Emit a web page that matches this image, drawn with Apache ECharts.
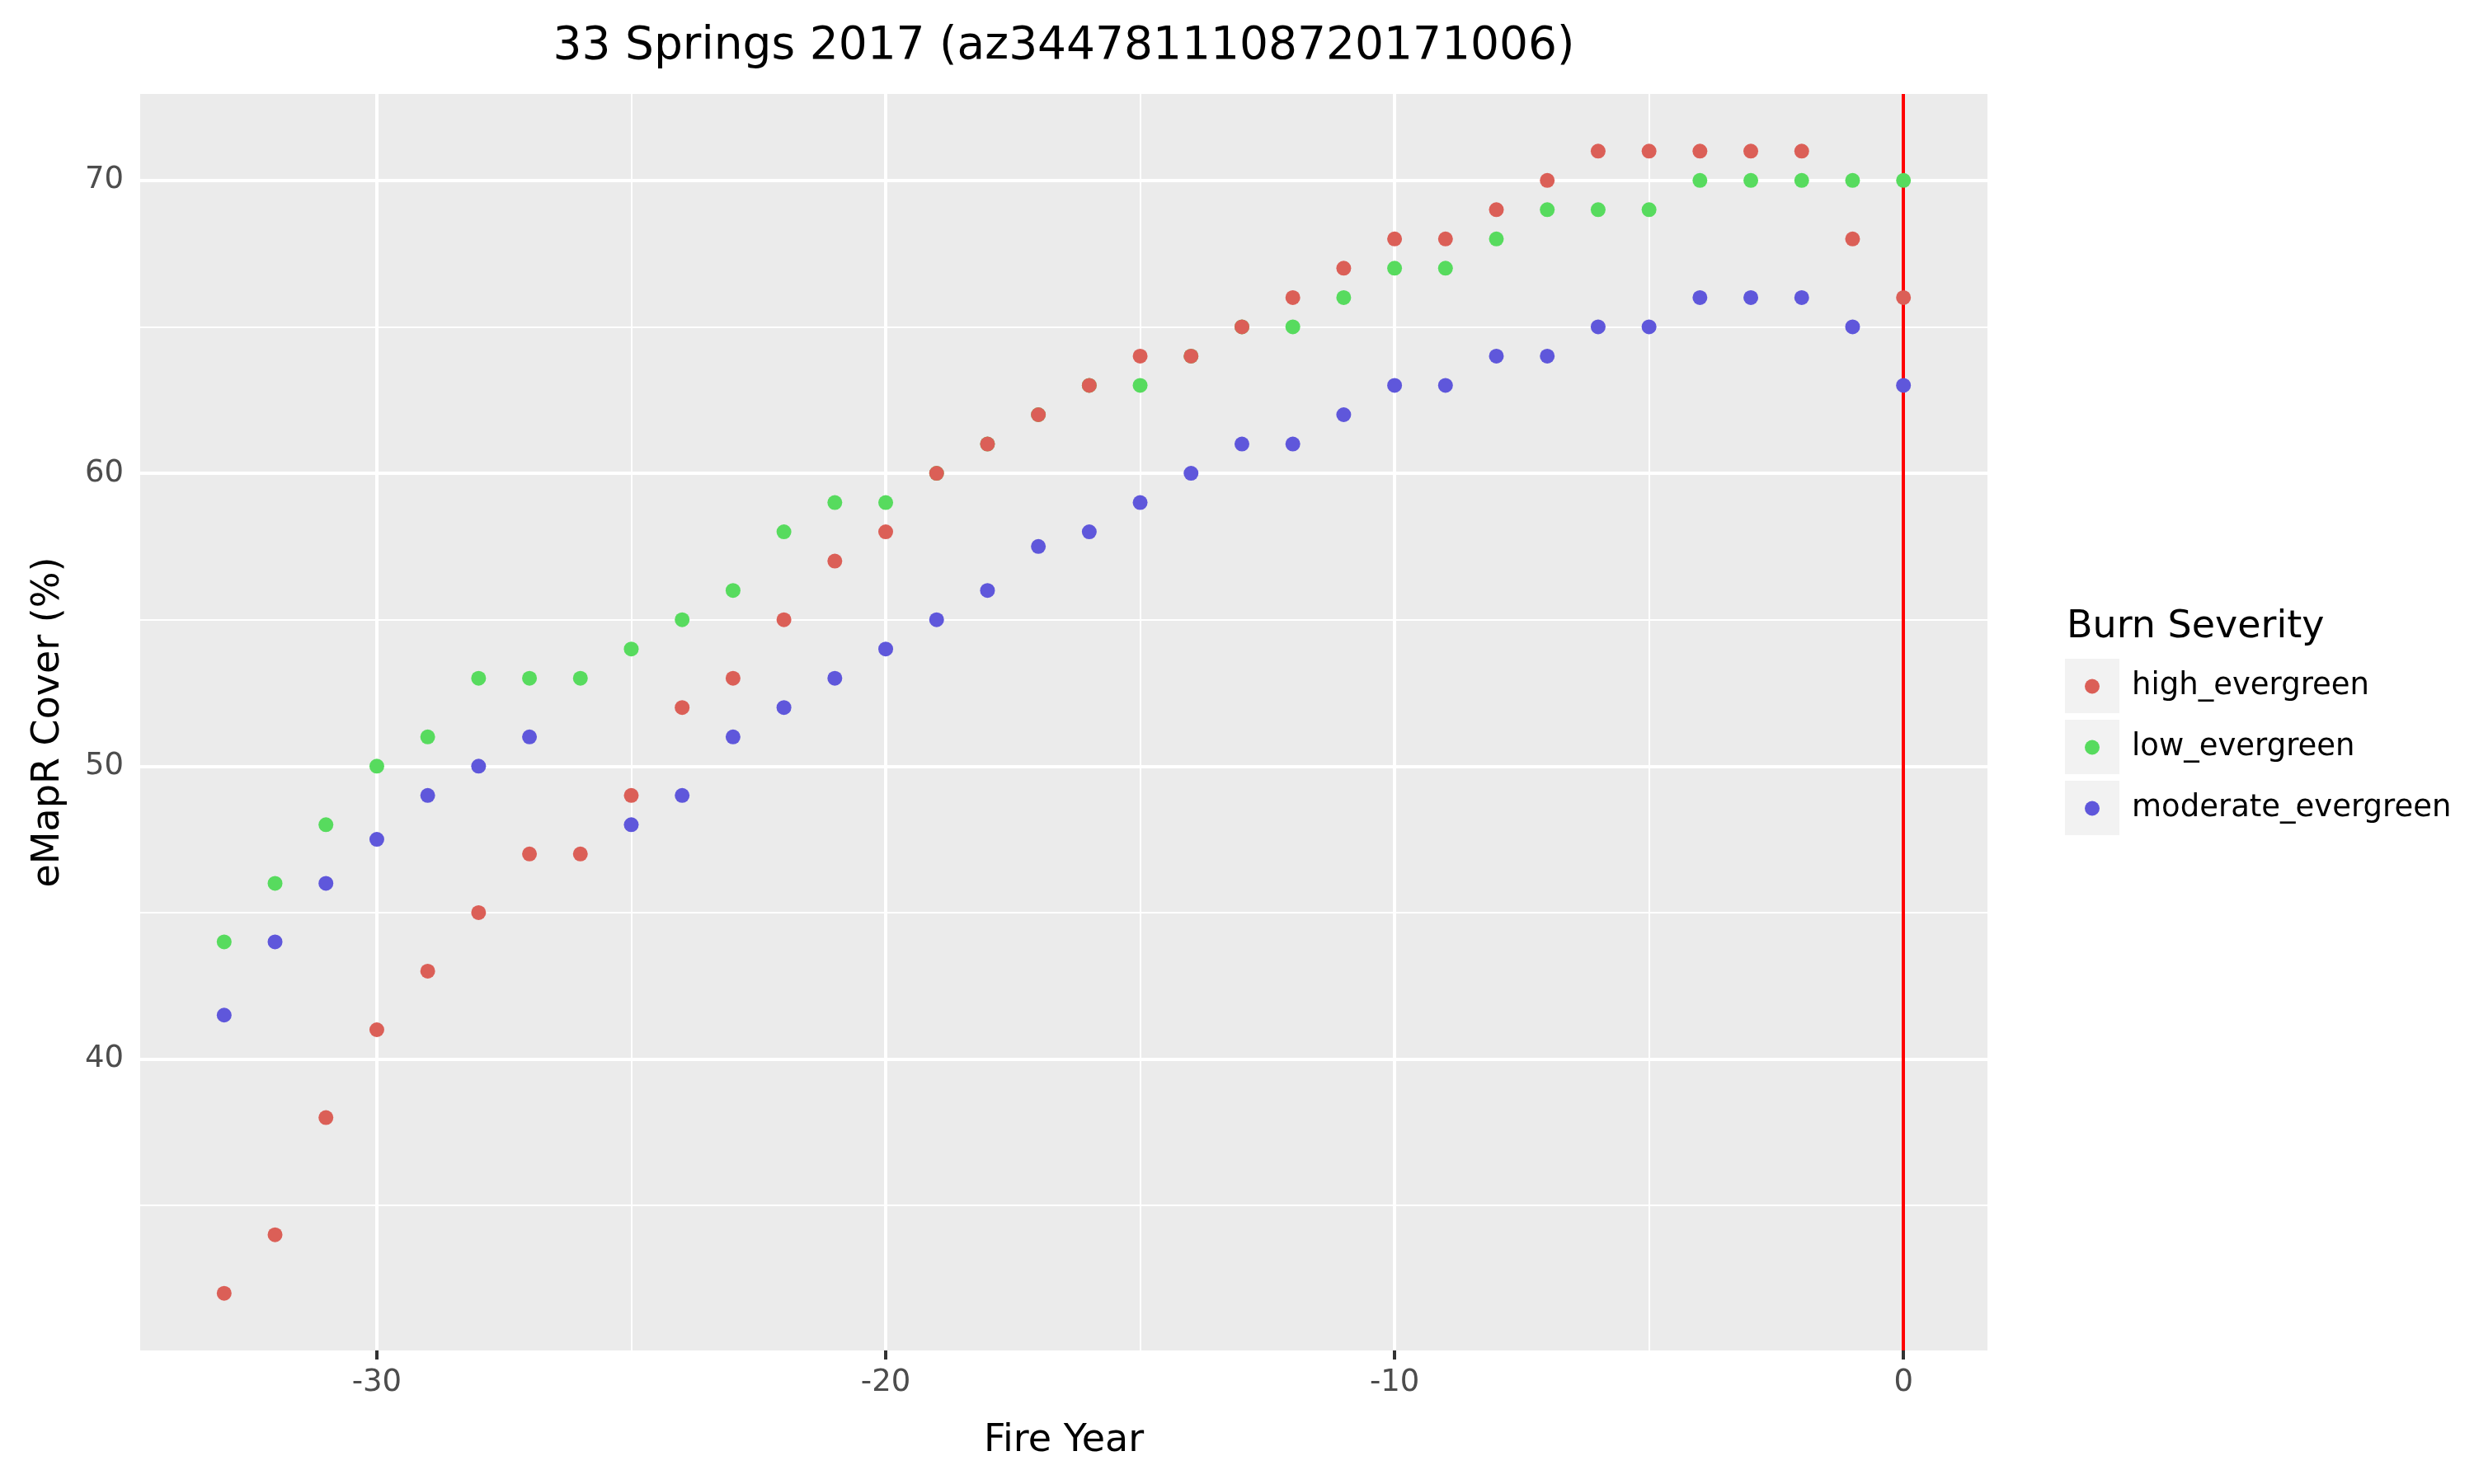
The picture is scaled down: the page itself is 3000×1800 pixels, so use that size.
<!DOCTYPE html>
<html>
<head>
<meta charset="utf-8">
<title>33 Springs 2017</title>
<script src="https://cdn.jsdelivr.net/npm/echarts@6.0.0/dist/echarts.min.js"></script>
<style>
  html, body { margin: 0; padding: 0; background: #fff; }
  #chart { width: 3000px; height: 1800px; }
</style>
</head>
<body>
<div id="chart"></div>
<script>
// fire year relative to the 2017 fire
var years = [-33, -32, -31, -30, -29, -28, -27, -26, -25, -24, -23, -22, -21, -20, -19, -18, -17,
             -16, -15, -14, -13, -12, -11, -10, -9, -8, -7, -6, -5, -4, -3, -2, -1, 0];

// eMapR cover (%) per burn severity class
var highEvergreen = [32, 34, 38, 41, 43, 45, 47, 47, 49, 52, 53, 55, 57, 58, 60, 61, 62,
                     63, 64, 64, 65, 66, 67, 68, 68, 69, 70, 71, 71, 71, 71, 71, 68, 66];
var lowEvergreen = [44, 46, 48, 50, 51, 53, 53, 53, 54, 55, 56, 58, 59, 59, 60, 61, 62,
                    63, 63, 64, 65, 65, 66, 67, 67, 68, 69, 69, 69, 70, 70, 70, 70, 70];
var moderateEvergreen = [41.5, 44, 46, 47.5, 49, 50, 51, null, 48, 49, 51, 52, 53, 54, 55, 56, 57.5,
                         58, 59, 60, 61, 61, 62, 63, 63, 64, 64, 65, 65, 66, 66, 66, 65, 63];

var seriesNames = ['high_evergreen', 'low_evergreen', 'moderate_evergreen'];
var xTicks = [-30, -20, -10, 0];
var xMinor = [-25, -15, -5];
var yTicks = [40, 50, 60, 70];
var yMinor = [35, 45, 55, 65];
var fireLine = 0;

var FONT = 'DejaVu Sans';

function pairs(vals) {
  var out = [];
  for (var i = 0; i < years.length; i++) {
    if (vals[i] != null) out.push([years[i], vals[i]]);
  }
  return out;
}

function gridLines(xs, ys) {
  var d = [];
  xs.forEach(function (v) { d.push({ xAxis: v }); });
  ys.forEach(function (v) { d.push({ yAxis: v }); });
  return d;
}

var myChart = echarts.init(document.getElementById('chart'));

var option = {
  animation: false,
  backgroundColor: '#fff',
  title: [
    {
      text: '33 Springs 2017 (az3447811108720171006)',
      left: 1290, top: 29, textAlign: 'center', padding: 0,
      textStyle: { fontFamily: FONT, fontSize: 55, fontWeight: 'normal', color: '#000' }
    },
    {
      text: 'Burn Severity',
      left: 2506, top: 738, padding: 0,
      textStyle: { fontFamily: FONT, fontSize: 46, fontWeight: 'normal', color: '#000' }
    }
  ],
  // grey legend key boxes
  graphic: [
    { type: 'rect', shape: { x: 2504, y: 799, width: 66, height: 66 }, style: { fill: '#F2F2F2' }, z: 0 },
    { type: 'rect', shape: { x: 2504, y: 873, width: 66, height: 66 }, style: { fill: '#F2F2F2' }, z: 0 },
    { type: 'rect', shape: { x: 2504, y: 947, width: 66, height: 66 }, style: { fill: '#F2F2F2' }, z: 0 }
  ],
  legend: {
    data: seriesNames,
    orient: 'vertical',
    left: 2528, top: 814,
    padding: 0,
    icon: 'circle',
    itemWidth: 18, itemHeight: 18, itemGap: 37,
    selectedMode: false,
    z: 5,
    textStyle: { fontFamily: FONT, fontSize: 37, color: '#000', padding: [0, 0, 0, 34] }
  },
  grid: {
    left: 170, right: 590, top: 114, bottom: 162,
    show: true, backgroundColor: '#EBEBEB', borderWidth: 0,
    outerBoundsMode: 'none'
  },
  xAxis: {
    type: 'value',
    min: -34.65, max: 1.65,
    name: 'Fire Year', nameLocation: 'middle', nameGap: 87,
    nameTextStyle: { fontFamily: FONT, fontSize: 46, color: '#000' },
    axisLine: { show: false },
    axisTick: { show: true, customValues: xTicks, length: 11, lineStyle: { color: '#333333', width: 4 } },
    axisLabel: { customValues: xTicks, margin: 21, fontFamily: FONT, fontSize: 37, color: '#4D4D4D' },
    splitLine: { show: false }
  },
  yAxis: {
    type: 'value',
    min: 30.05, max: 72.95,
    name: 'eMapR Cover (%)', nameLocation: 'middle', nameGap: 88, nameRotate: 90,
    nameTextStyle: { fontFamily: FONT, fontSize: 46, color: '#000' },
    axisLine: { show: false },
    axisTick: { show: true, customValues: yTicks, length: 11, lineStyle: { color: '#333333', width: 4 } },
    axisLabel: { customValues: yTicks, margin: 20, fontFamily: FONT, fontSize: 37, color: '#4D4D4D' },
    splitLine: { show: false }
  },
  series: [
    {
      name: 'minor-grid', type: 'scatter', data: [], z: 1, silent: true,
      markLine: {
        z: 1, silent: true, symbol: ['none', 'none'], label: { show: false },
        lineStyle: { color: '#FFFFFF', width: 2, type: 'solid' },
        data: gridLines(xMinor, yMinor)
      }
    },
    {
      name: 'major-grid', type: 'scatter', data: [], z: 1, silent: true,
      markLine: {
        z: 1, silent: true, symbol: ['none', 'none'], label: { show: false },
        lineStyle: { color: '#FFFFFF', width: 4, type: 'solid' },
        data: gridLines(xTicks, yTicks)
      }
    },
    {
      name: 'fire', type: 'scatter', data: [], z: 2, silent: true,
      markLine: {
        z: 2, silent: true, symbol: ['none', 'none'], label: { show: false },
        lineStyle: { color: '#FF0000', width: 4, type: 'solid' },
        data: [{ xAxis: fireLine }]
      }
    },
    {
      name: 'low_evergreen', type: 'scatter', z: 3, symbolSize: 18,
      itemStyle: { color: '#57DB5E', opacity: 1 },
      data: pairs(lowEvergreen)
    },
    {
      name: 'high_evergreen', type: 'scatter', z: 3, symbolSize: 18,
      itemStyle: { color: '#DB5F57', opacity: 1 },
      data: pairs(highEvergreen)
    },
    {
      name: 'moderate_evergreen', type: 'scatter', z: 3, symbolSize: 18,
      itemStyle: { color: '#5F57DB', opacity: 1 },
      data: pairs(moderateEvergreen)
    }
  ]
};

myChart.setOption(option);
</script>
</body>
</html>
